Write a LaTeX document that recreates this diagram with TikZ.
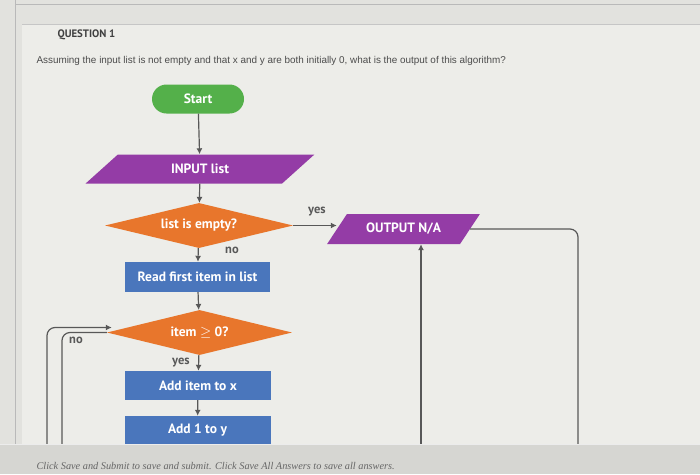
\documentclass[tikz,border=0pt]{standalone}
\usepackage{fontspec}
\setmainfont{PT Sans}
\newfontfamily\qfont{Liberation Sans}
\newfontfamily\notefont{Liberation Serif}
\usetikzlibrary{shapes.geometric,arrows.meta}

\definecolor{startgreen}{RGB}{84,176,74}
\definecolor{iopurple}{RGB}{148,60,166}
\definecolor{decorange}{RGB}{232,118,44}
\definecolor{procblue}{RGB}{74,118,188}
\definecolor{pagebg}{RGB}{226,226,222}
\definecolor{panelbg}{RGB}{237,237,233}
\definecolor{linegray}{RGB}{88,88,88}
\definecolor{barbg}{RGB}{214,214,210}

\tikzset{
  base/.style={font=\bfseries\fontsize{13.5}{15}\selectfont, text=white, inner sep=1pt},
  startstop/.style={base, rectangle, rounded corners=14.5pt, fill=startgreen,
    minimum width=92pt, minimum height=29pt},
  io/.style={base, trapezium, trapezium left angle=45, trapezium right angle=135,
    trapezium stretches=true, fill=iopurple, minimum height=29pt},
  decision/.style={base, diamond, aspect=4, fill=decorange, inner sep=0pt},
  process/.style={base, rectangle, fill=procblue, minimum width=146pt, minimum height=29pt},
  arrow/.style={draw=linegray, line width=1.2pt, -{Latex[length=6pt,width=6pt]}},
  link/.style={draw=linegray, line width=1.2pt, rounded corners=8pt},
  lbl/.style={font=\bfseries\fontsize{12.5}{14}\selectfont, text=linegray, inner sep=0pt}
}

\begin{document}
\begin{tikzpicture}[x=1pt,y=-1pt]
\useasboundingbox (0,0) rectangle (700,474);

% page
\fill[pagebg] (0,0) rectangle (700,474);
\fill[panelbg] (22,24) rectangle (700,444);
\draw[gray!45,line width=0.6pt] (22,24) -- (700,24);
\draw[gray!55,line width=0.8pt] (15,0) -- (15,444);
\draw[gray!55,line width=0.8pt] (15,4) -- (700,4);

\node[anchor=west,font=\bfseries\fontsize{10.8}{12}\selectfont,text=black!75] (qhead) at (54,35) {QUESTION 1};
\node[anchor=west,font=\qfont\fontsize{9.9}{11}\selectfont,text=black!70] (qtext) at (33,61)
  {Assuming the input list is not empty and that x and y are both initially 0, what is the output of this algorithm?};

% flowchart
\node[startstop] (start) at (198,99) {Start};
\node[io, minimum width=230pt] (input) at (200,169) {INPUT list};
\node[decision, minimum width=188pt, minimum height=45pt] (empty) at (199,225.5) {list is empty?};
\node[io, minimum width=153pt, minimum height=30pt] (outna) at (403.5,229) {OUTPUT N/A};
\node[process, minimum width=145pt, minimum height=30pt] (read) at (197.5,277) {Read first item in list};
\node[decision, minimum width=185pt, minimum height=45pt] (check) at (199.5,332.5) {item $\geq$ 0?};
\node[process] (addx) at (198,385.5) {Add item to x};
\node[process, minimum height=28pt] (addy) at (197.5,430) {Add 1 to y};

\coordinate (rdown) at (578,445);
\coordinate (rup) at (421,445);
\coordinate (lout) at (47,445);
\coordinate (lin) at (62,445);

\draw[arrow] (start) -- (input);
\draw[arrow] (input) -- (empty);
\draw[arrow] (empty.east) -- (outna.west |- empty.east);
\draw[arrow] (empty) -- (read);
\draw[arrow] (read) -- (check);
\draw[arrow] (check) -- (addx);
\draw[arrow] (addx) -- (addy);

\draw[link] (outna.east) -| (rdown);
\draw[arrow] (rup) -- (rup |- outna.south);
\draw[link,arrow] (lout) |- ([shift={(5pt,5pt)}]check.west);
\draw[link] (check.west) -| (lin);

\node[lbl] (yes1) at (317,212) {yes};
\node[lbl] (no1) at (232,250) {no};
\node[lbl] (no2) at (76,340) {no};
\node[lbl] (yes2) at (181,363) {yes};

% bottom bar
\fill[barbg] (0,444) rectangle (700,474);
\draw[white!85!gray,line width=0.8pt] (0,444) -- (700,444);
\node[anchor=west,font=\notefont\itshape\fontsize{10.3}{12}\selectfont,text=black!60] (note) at (33,466)
  {Click Save and Submit to save and submit. Click Save All Answers to save all answers.};
\end{tikzpicture}
\end{document}
